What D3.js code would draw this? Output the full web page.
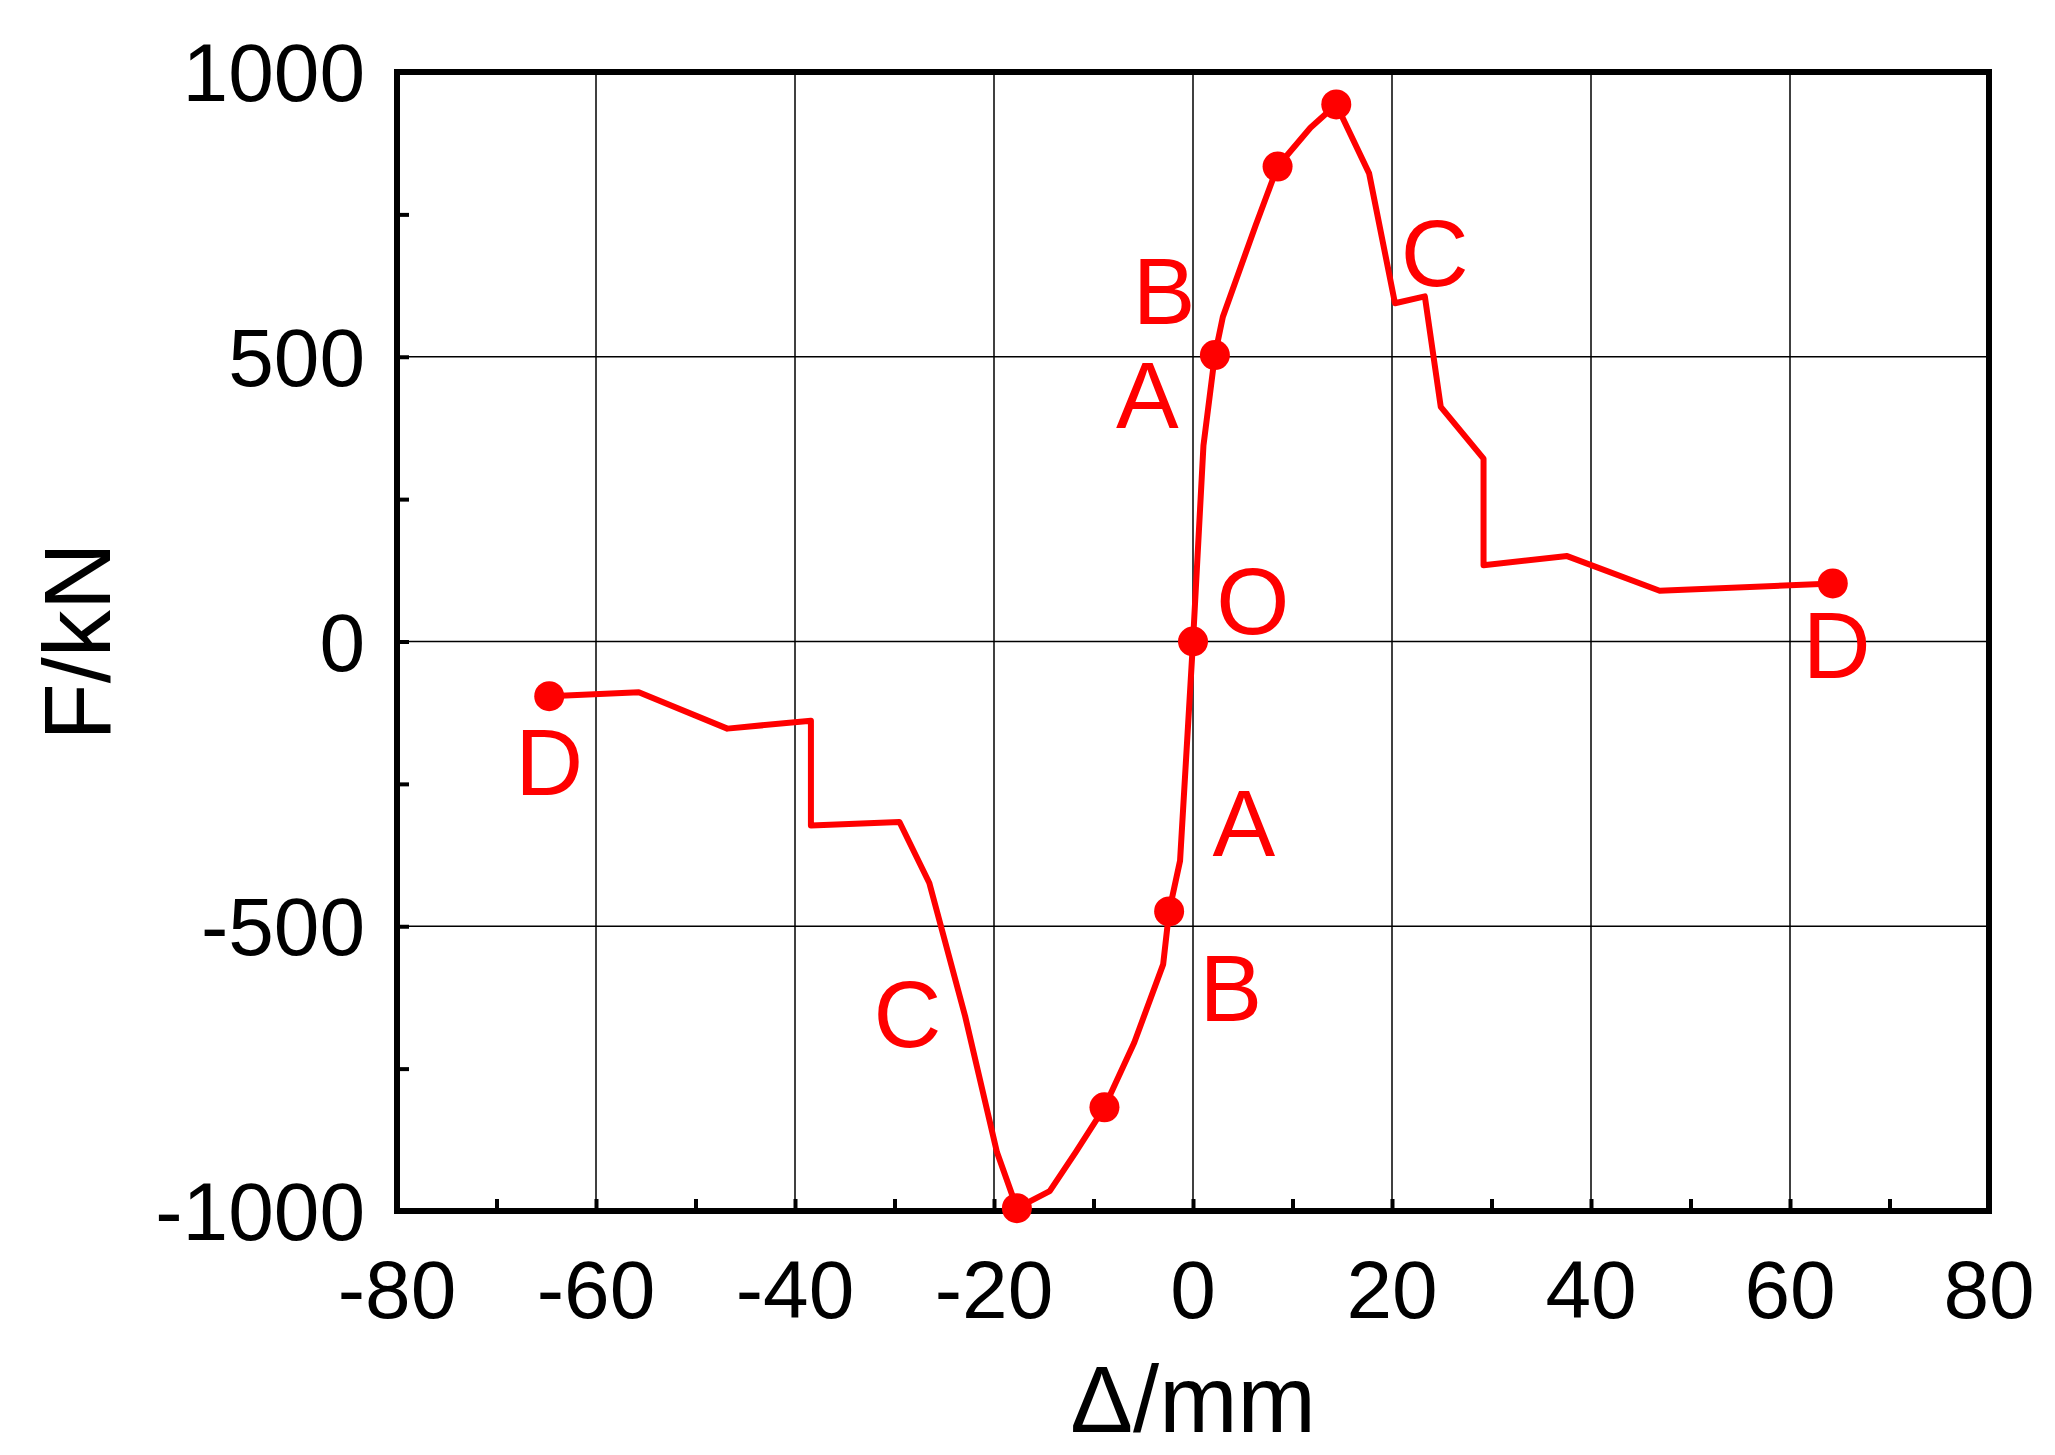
<!DOCTYPE html>
<html><head><meta charset="utf-8">
<script src="https://cdn.jsdelivr.net/npm/d3@7"></script>
<style>body{margin:0;background:#fff}</style></head>
<body><svg id="c" width="2055" height="1455"></svg>
<script>
const curveX = [-64.7,-55.7,-46.8,-38.4,-38.4,-29.5,-26.5,-22.9,-19.7,-17.7,-14.4,-11.8,-8.9,-5.9,-3,-2.4,-1.3,0,1.05,2.2,3,6.3,8.5,11.8,14.4,17.7,20.3,23.3,24.9,29.2,29.2,37.6,46.9,64.3];
const curveF = [-96,-89,-153,-139,-323,-317,-424,-658,-897,-995,-965,-897,-818,-704,-567,-474,-385,0,344,503,570,731,834,902,943,822,594,606,412,321,134,150,89,102];
const markX = [-64.7,-17.7,-8.9,-2.4,0,2.2,8.5,14.4,64.3];
const markF = [-96,-995,-818,-474,0,503,834,943,102];
const labelText = ["B","A","C","O","D","D","A","B","C"];
const labelX = [-2.9,-4.6,24.3,6.0,64.7,-64.7,5.1,3.8,-28.7];
const labelF = [617,435,684,72,-5,-210,-318,-607,-652];
const xTicks = [-80,-60,-40,-20,0,20,40,60,80];
const yTicks = [-1000,-500,0,500,1000];

const svg = d3.select("#c");
const x = d3.scaleLinear().domain([-80,80]).range([397,1989]);
const y = d3.scaleLinear().domain([-1000,1000]).range([1211,72]);
const font = "Arial, 'Liberation Sans', sans-serif";

svg.append("g").selectAll("line").data(xTicks.slice(1,-1)).join("line")
  .attr("x1",d=>x(d)).attr("x2",d=>x(d)).attr("y1",y(1000)).attr("y2",y(-1000))
  .attr("stroke","#000").attr("stroke-width",1.5);
svg.append("g").selectAll("line").data(yTicks.slice(1,-1)).join("line")
  .attr("y1",d=>y(d)).attr("y2",d=>y(d)).attr("x1",x(-80)).attr("x2",x(80))
  .attr("stroke","#000").attr("stroke-width",1.5);

const xa = svg.append("g").attr("transform",`translate(0,${y(-1000)})`)
  .call(d3.axisTop(x).tickValues(d3.range(-70,80,10)).tickSize(12).tickFormat(""));
const ya = svg.append("g").attr("transform",`translate(${x(-80)},0)`)
  .call(d3.axisRight(y).tickValues(d3.range(-750,1000,250)).tickSize(12).tickFormat(""));
[xa,ya].forEach(a=>{a.select(".domain").remove();a.selectAll("line").attr("stroke-width",4);});
svg.append("rect").attr("x",x(-80)).attr("y",y(1000)).attr("width",x(80)-x(-80)).attr("height",y(-1000)-y(1000))
  .attr("fill","none").attr("stroke","#000").attr("stroke-width",6);

svg.append("g").selectAll("text").data(xTicks).join("text")
  .attr("x",d=>x(d)).attr("y",1318).attr("text-anchor","middle")
  .attr("font-family",font).attr("font-size",82).text(d=>d);
svg.append("g").selectAll("text").data(yTicks).join("text")
  .attr("x",365).attr("y",d=>y(d)+29).attr("text-anchor","end")
  .attr("font-family",font).attr("font-size",82).text(d=>d);

svg.append("text").attr("x",x(0)).attr("y",1432).attr("text-anchor","middle")
  .attr("font-family",font).attr("font-size",94).text("Δ/mm");
svg.append("text").attr("transform",`translate(110,${y(0)}) rotate(-90)`).attr("text-anchor","middle")
  .attr("font-family",font).attr("font-size",94).text("F/kN");

const pts = curveX.map((d,i)=>[d,curveF[i]]);
svg.append("path").attr("d",d3.line().x(d=>x(d[0])).y(d=>y(d[1]))(pts))
  .attr("fill","none").attr("stroke","#ff0000").attr("stroke-width",6).attr("stroke-linejoin","round");
svg.append("g").selectAll("circle").data(markX).join("circle")
  .attr("cx",d=>x(d)).attr("cy",(d,i)=>y(markF[i])).attr("r",15).attr("fill","#ff0000");
svg.append("g").selectAll("text").data(labelText).join("text")
  .attr("x",(d,i)=>x(labelX[i])).attr("y",(d,i)=>y(labelF[i])).attr("dy","0.36em")
  .attr("text-anchor","middle").attr("font-family",font).attr("font-size",94).attr("fill","#ff0000").text(d=>d);
</script></body></html>
